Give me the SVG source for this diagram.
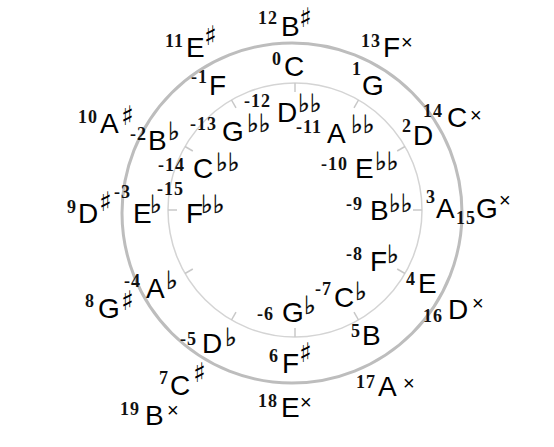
<svg xmlns="http://www.w3.org/2000/svg" width="554" height="447" viewBox="0 0 554 447">
<style>
.n{font-family:"Liberation Serif","DejaVu Serif",serif;font-size:18px;font-weight:bold;letter-spacing:1px;fill:#111}
.l{font-family:"Liberation Sans",Arial,sans-serif;font-size:28px;fill:#000}
.a{font-family:"DejaVu Sans",sans-serif;font-size:25px;fill:#000;stroke:#000;stroke-width:0.4px}
.s{font-family:"DejaVu Sans",sans-serif;font-size:27px;fill:#000}
.x{font-family:"Liberation Sans",Arial,sans-serif;font-size:20px;fill:#000}
.ring{fill:none}
</style>
<rect width="554" height="447" fill="#fff"/>
<g id="rings">
<circle class="ring" cx="292" cy="213" r="170" stroke="#bdbdbd" stroke-width="3"/>
<circle class="ring" cx="295" cy="210" r="127" stroke="#d4d4d4" stroke-width="1.5"/>
</g>
<g id="connectors" stroke="#c8c8c8" stroke-width="1.5">
<line x1="295" y1="83" x2="295" y2="92"/>
<line x1="358.5" y1="100" x2="354" y2="107.8"/>
<line x1="405" y1="146.5" x2="397.2" y2="151"/>
<line x1="422" y1="210" x2="413" y2="210"/>
<line x1="405" y1="273.5" x2="397.2" y2="269"/>
<line x1="358.5" y1="320" x2="354" y2="312.2"/>
<line x1="295" y1="337" x2="295" y2="328"/>
<line x1="231.5" y1="320" x2="236" y2="312.2"/>
<line x1="185" y1="273.5" x2="192.8" y2="269"/>
<line x1="168" y1="210" x2="177" y2="210"/>
<line x1="185" y1="146.5" x2="192.8" y2="151"/>
<line x1="231.5" y1="100" x2="236" y2="107.8"/>
</g>
<g id="n12"><text class="n" x="258" y="24">12</text><text class="l" x="281" y="36">B</text><text class="s" x="299" y="27">♯</text></g>
<g id="n11"><text class="n" x="165" y="47">11</text><text class="l" x="186" y="57">E</text><text class="s" x="204" y="45">♯</text></g>
<g id="n13"><text class="n" x="361" y="47">13</text><text class="l" x="383" y="57">F</text><text class="x" x="401" y="49">×</text></g>
<g id="n0"><text class="n" x="272" y="65">0</text><text class="l" x="284" y="76">C</text></g>
<g id="nm1"><text class="n" x="191" y="83">-1</text><text class="l" x="209" y="95">F</text></g>
<g id="n1"><text class="n" x="352" y="75">1</text><text class="l" x="362" y="95">G</text></g>
<g id="nm12"><text class="n" x="244" y="107">-12</text><text class="l" x="277" y="122">D</text><text class="a" x="298" y="112">♭♭</text></g>
<g id="nm11"><text class="n" x="296" y="133">-11</text><text class="l" x="327" y="143">A</text><text class="a" x="351" y="133">♭♭</text></g>
<g id="nm13"><text class="n" x="190" y="130">-13</text><text class="l" x="222" y="141">G</text><text class="a" x="247" y="132">♭♭</text></g>
<g id="nm14"><text class="n" x="158" y="171">-14</text><text class="l" x="193" y="178">C</text><text class="a" x="216" y="171">♭♭</text></g>
<g id="nm10"><text class="n" x="321" y="170">-10</text><text class="l" x="355" y="178">E</text><text class="a" x="375" y="170">♭♭</text></g>
<g id="n10"><text class="n" x="78" y="123">10</text><text class="l" x="100" y="133">A</text><text class="s" x="121" y="125">♯</text></g>
<g id="nm2"><text class="n" x="130" y="140">-2</text><text class="l" x="148" y="150">B</text><text class="a" x="168" y="140">♭</text></g>
<g id="n14"><text class="n" x="423" y="117">14</text><text class="l" x="447" y="127">C</text><text class="x" x="470" y="122">×</text></g>
<g id="n2"><text class="n" x="402" y="132">2</text><text class="l" x="413" y="145">D</text></g>
<g id="n9"><text class="n" x="67" y="213">9</text><text class="l" x="78" y="223">D</text><text class="s" x="99" y="211">♯</text></g>
<g id="nm3"><text class="n" x="114" y="198">-3</text><text class="l" x="133" y="223">E</text><text class="a" x="150" y="213">♭</text></g>
<g id="nm15"><text class="n" x="157" y="195">-15</text><text class="l" x="186" y="223">F</text><text class="a" x="201" y="213">♭♭</text></g>
<g id="nm9"><text class="n" x="346" y="210">-9</text><text class="l" x="370" y="220">B</text><text class="a" x="389" y="212">♭♭</text></g>
<g id="n3"><text class="n" x="426" y="203">3</text><text class="l" x="436" y="218">A</text></g>
<g id="n15"><text class="n" x="456" y="224">15</text><text class="l" x="476" y="218">G</text><text class="x" x="499" y="207">×</text></g>
<g id="nm4"><text class="n" x="124" y="287">-4</text><text class="l" x="146" y="298">A</text><text class="a" x="166" y="289">♭</text></g>
<g id="n8"><text class="n" x="85" y="307">8</text><text class="l" x="98" y="318">G</text><text class="s" x="121" y="310">♯</text></g>
<g id="nm6"><text class="n" x="257" y="320">-6</text><text class="l" x="282" y="322">G</text><text class="a" x="304" y="314">♭</text></g>
<g id="nm7"><text class="n" x="315" y="295">-7</text><text class="l" x="334" y="307">C</text><text class="a" x="355" y="300">♭</text></g>
<g id="nm8"><text class="n" x="346" y="260">-8</text><text class="l" x="370" y="271">F</text><text class="a" x="387" y="263">♭</text></g>
<g id="n4"><text class="n" x="406" y="285">4</text><text class="l" x="418" y="293">E</text></g>
<g id="n16"><text class="n" x="423" y="322">16</text><text class="l" x="448" y="319">D</text><text class="x" x="472" y="310">×</text></g>
<g id="n5"><text class="n" x="351" y="337">5</text><text class="l" x="362" y="345">B</text></g>
<g id="nm5"><text class="n" x="180" y="345">-5</text><text class="l" x="202" y="353">D</text><text class="a" x="225" y="346">♭</text></g>
<g id="n6"><text class="n" x="269" y="362">6</text><text class="l" x="282" y="373">F</text><text class="s" x="299" y="362">♯</text></g>
<g id="n7"><text class="n" x="159" y="384">7</text><text class="l" x="170" y="395">C</text><text class="s" x="193" y="382">♯</text></g>
<g id="n18"><text class="n" x="258" y="407">18</text><text class="l" x="281" y="417">E</text><text class="x" x="300" y="409">×</text></g>
<g id="n17"><text class="n" x="356" y="388">17</text><text class="l" x="378" y="396">A</text><text class="x" x="403" y="390">×</text></g>
<g id="n19"><text class="n" x="120" y="415">19</text><text class="l" x="145" y="425">B</text><text class="x" x="167" y="417">×</text></g>
</svg>
